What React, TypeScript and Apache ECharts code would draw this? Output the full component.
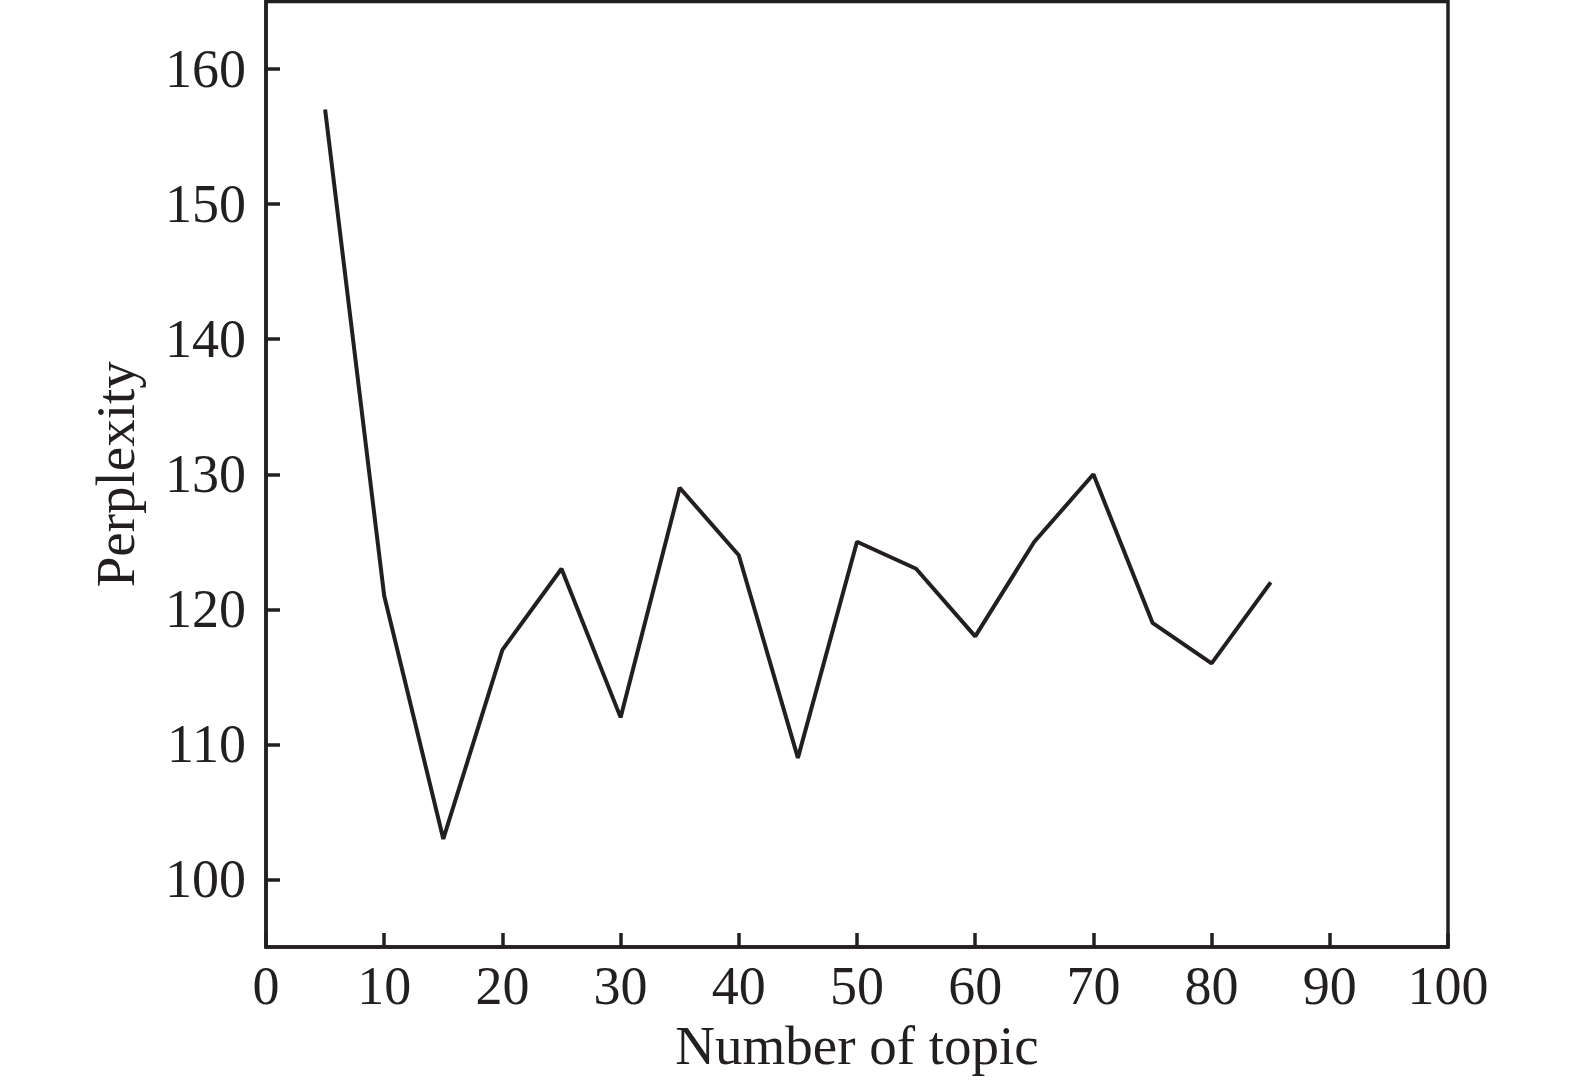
import React, { useEffect, useRef } from "react";
import * as echarts from "echarts";

const topics = [5, 10, 15, 20, 25, 30, 35, 40, 45, 50, 55, 60, 65, 70, 75, 80, 85];
const perplexity = [157, 121, 103, 117, 123, 112, 129, 124, 109, 125, 123, 118, 125, 130, 119, 116, 122];
const yTicks = [100, 110, 120, 130, 140, 150, 160];
const xTitle = "Number of topic";
const yTitle = "Perplexity";

const INK = "#231f20";
const FONT = "Liberation Serif";

export default function App() {
  const ref = useRef<HTMLDivElement>(null);
  useEffect(() => {
    if (!ref.current) return;
    const chart = echarts.init(ref.current, null, { renderer: "svg" });
    chart.setOption({
      animation: false,
      backgroundColor: "#ffffff",
      grid: {
        left: 266,
        right: 127,
        top: 1.5,
        bottom: 134,
        show: true,
        borderColor: INK,
        borderWidth: 3.5,
        backgroundColor: "transparent",
      },
      xAxis: {
        type: "value",
        min: 0,
        max: 100,
        interval: 10,
        name: xTitle,
        nameLocation: "middle",
        nameGap: 64,
        nameTextStyle: { fontFamily: FONT, fontSize: 55, color: INK },
        axisLine: { show: true, lineStyle: { color: INK, width: 3.5 } },
        axisTick: { show: true, inside: true, length: 14, lineStyle: { color: INK, width: 3.5 } },
        axisLabel: { margin: 12, fontFamily: FONT, fontSize: 54, color: INK },
        splitLine: { show: false },
      },
      yAxis: {
        type: "value",
        min: 95,
        max: 165,
        name: yTitle,
        nameLocation: "middle",
        nameGap: 123,
        nameTextStyle: { fontFamily: FONT, fontSize: 55, color: INK },
        axisLine: { show: true, lineStyle: { color: INK, width: 3.5 } },
        axisTick: {
          show: true,
          inside: true,
          length: 14,
          customValues: yTicks,
          lineStyle: { color: INK, width: 3.5 },
        },
        axisLabel: {
          margin: 20,
          fontFamily: FONT,
          fontSize: 54,
          color: INK,
          customValues: yTicks,
        },
        splitLine: { show: false },
      },
      series: [
        {
          type: "line",
          data: topics.map((t, i) => [t, perplexity[i]]),
          showSymbol: false,
          symbol: "none",
          lineStyle: { color: INK, width: 4 },
        },
      ],
    });
    return () => chart.dispose();
  }, []);
  return (
    <div
      ref={ref}
      style={{ position: "absolute", left: 0, top: 0, width: 1575, height: 1081, background: "#fff" }}
    />
  );
}
